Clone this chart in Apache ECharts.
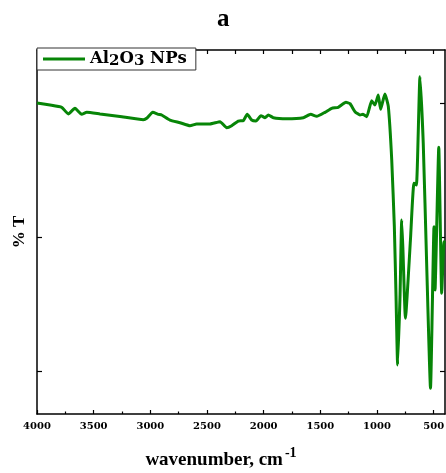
<!DOCTYPE html>
<html><head><meta charset="utf-8">
<script src="https://cdn.jsdelivr.net/npm/echarts@6/dist/echarts.min.js"></script>
<style>html,body{margin:0;padding:0;background:#fff}#c{width:446px;height:473px}</style>
</head><body><div id="c"></div>
<script>
var wavenumber = [4000,3885,3782,3724,3665,3606,3561,3444,3268,3062,3029,2979,2930,2900,2827,2738,2650,2591,2474,2385,2326,2282,2224,2180,2145,2106,2068,2024,1988,1959,1915,1797,1650,1585,1532,1459,1400,1342,1274,1238,1194,1150,1124,1091,1047,1018,989,968,950,930,900,870,847,832,818,797,782,771,749,705,674,652,621,592,562,528,497,488,455,429,409,400];
var transmittance = [60.0,59.7,59.36,58.36,59.21,58.31,58.61,58.36,57.99,57.51,57.76,58.61,58.31,58.21,57.46,57.06,56.61,56.87,56.87,57.21,56.31,56.61,57.31,57.36,58.31,57.46,57.31,58.10,57.81,58.21,57.81,57.66,57.81,58.31,58.01,58.61,59.21,59.36,60.10,59.90,58.70,58.21,58.31,57.96,60.34,59.70,61.19,59.06,60.19,61.34,59.45,51.49,41.54,31.09,20.90,31.09,42.54,38.06,27.87,39.55,48.01,47.76,63.93,54.03,36.12,17.42,41.54,32.09,53.39,31.60,39.30,39.1];
var xMajorTicks = [500,1000,1500,2000,2500,3000,3500,4000];
var xMinorTicks = [750,1250,1750,2250,2750,3250,3750];
var xTopTicks = [500,750,1000,1250,1500,1750,2000,2250,2500,2750,3000,3250,3500,3750,4000];
var yTicks = [20,40,60];
var seriesName = 'Al2O3 NPs';

var serif = '"Liberation Serif","DejaVu Serif",serif';
var wide = '"DejaVu Serif",serif';
var pts = wavenumber.map(function(w,i){return [w, transmittance[i]];});
var chart = echarts.init(document.getElementById('c'));
var xBase = {type:'value', min:400, max:4000, inverse:true, splitLine:{show:false}, gridIndex:0};
var yBase = {type:'value', min:13.58, max:67.91, splitLine:{show:false}, axisLabel:{show:false}};
chart.setOption({
  animation:false,
  title:{text:'a', left:212, top:2, textStyle:{fontFamily:serif, fontWeight:'bold', fontSize:25, color:'#000'}},
  grid:{left:37, right:1, top:50, bottom:59, containLabel:false, outerBoundsMode:'none'},
  legend:{
    left:37, top:48, padding:[1,9,1,6], itemGap:0,
    borderColor:'#333', borderWidth:1, backgroundColor:'#fff',
    icon:'rect', itemWidth:42, itemHeight:3,
    formatter:function(){return '{a|Al}{s|2}{a|O}{s|3}{a| NPs}';},
    textStyle:{rich:{
      a:{fontFamily:wide, fontWeight:'bold', fontSize:16.5, color:'#000', lineHeight:17},
      s:{fontFamily:wide, fontWeight:'bold', fontSize:15, color:'#000', padding:[5,0,0,0], lineHeight:17}
    }}
  },
  xAxis:[
    Object.assign({}, xBase, {position:'bottom',
      name:'{t|wavenumber, cm}{u|-1}', nameLocation:'middle', nameGap:31,
      nameTextStyle:{padding:[0,40,0,0], rich:{
        t:{fontFamily:serif, fontWeight:'bold', fontSize:19, color:'#000', padding:[6,0,0,0]},
        u:{fontFamily:serif, fontWeight:'bold', fontSize:14, color:'#000', padding:[0,0,8,2]}
      }},
      axisLine:{lineStyle:{color:'#000', width:1.5}},
      axisTick:{inside:true, length:4, customValues:xMajorTicks, lineStyle:{color:'#000', width:1.2}},
      axisLabel:{customValues:xMajorTicks, formatter:function(v){return String(v);}, fontFamily:wide, fontWeight:'bold', fontSize:10, color:'#000', margin:7}
    }),
    Object.assign({}, xBase, {position:'bottom',
      axisLine:{show:false},
      axisTick:{inside:true, length:2.5, customValues:xMinorTicks, lineStyle:{color:'#000', width:1.2}},
      axisLabel:{show:false}
    }),
    Object.assign({}, xBase, {position:'top',
      axisLine:{lineStyle:{color:'#000', width:1.5}},
      axisTick:{inside:true, length:4, customValues:xTopTicks, lineStyle:{color:'#000', width:1.2}},
      axisLabel:{show:false}
    })
  ],
  yAxis:[
    Object.assign({}, yBase, {position:'left',
      name:'% T', nameLocation:'middle', nameGap:9, nameRotate:90,
      nameTextStyle:{fontFamily:serif, fontWeight:'bold', fontSize:17, color:'#000'},
      axisLine:{show:true, lineStyle:{color:'#000', width:1.5}},
      axisTick:{show:true, inside:true, length:5, customValues:yTicks, lineStyle:{color:'#000', width:1.2}}
    }),
    Object.assign({}, yBase, {position:'right',
      axisLine:{show:true, lineStyle:{color:'#000', width:1.5}},
      axisTick:{show:true, inside:true, length:5, customValues:yTicks, lineStyle:{color:'#000', width:1.2}}
    })
  ],
  series:[{
    name:seriesName, type:'line', data:pts, xAxisIndex:0, yAxisIndex:0,
    symbol:'none', smooth:0.15, lineStyle:{color:'#078507', width:3}, itemStyle:{color:'#078507'}
  }]
});
</script></body></html>
